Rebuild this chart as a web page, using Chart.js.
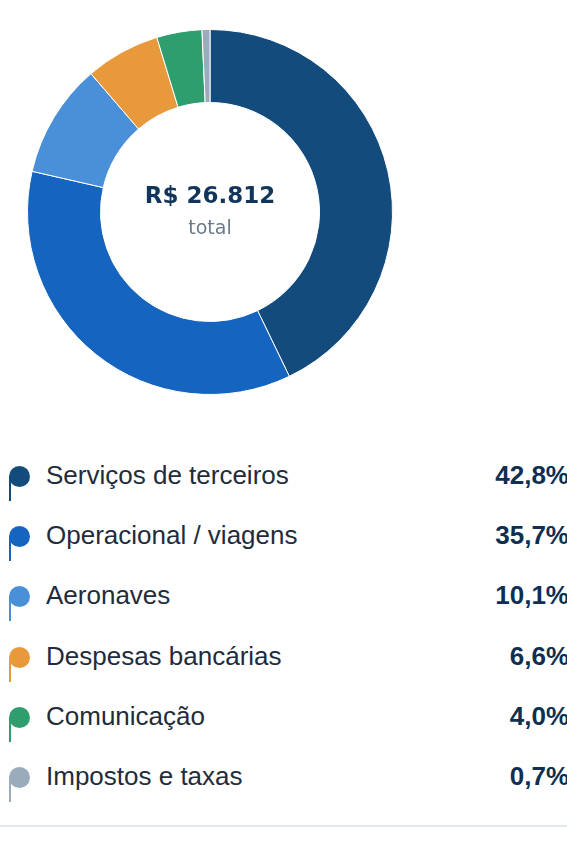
<!DOCTYPE html>
<html>
<head>
<meta charset="utf-8">
<script src="https://cdn.jsdelivr.net/npm/chart.js@4.4.1/dist/chart.umd.min.js"></script>
<style>
  html, body { margin: 0; padding: 0; background: #fff; }
  body { width: 567px; height: 855px; overflow: hidden; position: relative; }
  .chart-box { position: absolute; left: 27px; top: 29px; width: 366px; height: 366px; }
  .center-label { position: absolute; left: 110px; top: 175px; width: 200px; text-align: center; font-family: "DejaVu Sans", sans-serif; }
  .center-label .amount { font-size: 23px; font-weight: bold; color: #12355b; line-height: 40px; }
  .center-label .sub { font-size: 19px; color: #6b7a8b; line-height: 24px; }
  .legend { position: absolute; left: 0; top: 446px; width: 567px; margin: 0; padding: 0; list-style: none; }
  .legend li { position: relative; height: 60.2px; font-family: "Liberation Sans", Arial, sans-serif; font-size: 26px; }
  .legend .dot { position: absolute; left: 9px; top: 20px; width: 21px; height: 21px; border-radius: 50%; }
  .legend .dot::after { content: ""; position: absolute; left: 0; top: 10px; width: 1.5px; height: 25px; background: inherit; }
  .legend .name { position: absolute; left: 46px; top: 14px; color: #1f2c3b; }
  .legend .pct { position: absolute; right: -2px; top: 14px; font-weight: bold; color: #0f2f52; }
  .rule { position: absolute; left: 0; top: 825px; width: 567px; height: 2px; background: #e1e8ef; }
</style>
</head>
<body>
<div class="chart-box"><canvas id="donut"></canvas></div>
<div class="center-label">
  <div class="amount" id="totalAmount"></div>
  <div class="sub">total</div>
</div>
<ul class="legend" id="legend"></ul>
<div class="rule"></div>

<script>
const categories = ['Serviços de terceiros', 'Operacional / viagens', 'Aeronaves', 'Despesas bancárias', 'Comunicação', 'Impostos e taxas'];
const shares = [42.8, 35.7, 10.1, 6.6, 4.0, 0.7];
const colors = ['#134b7c', '#1565c0', '#4a90d9', '#e8993b', '#2f9e6e', '#9aabbb'];
const totalLabel = 'R$ 26.812';

document.getElementById('totalAmount').textContent = totalLabel;

// Legend list
document.getElementById('legend').innerHTML = categories.map((c, i) => `
    <li>
        <span class="dot" style="background:${colors[i]}"></span>
        <span class="name">${c}</span>
        <span class="pct">${shares[i].toFixed(1).replace('.', ',')}%</span>
    </li>
`).join('');

new Chart(document.getElementById('donut').getContext('2d'), {
    type: 'doughnut',
    data: {
        labels: categories,
        datasets: [{
            data: shares,
            backgroundColor: colors,
            borderColor: '#ffffff',
            borderWidth: 1,
        }]
    },
    options: {
        responsive: true,
        maintainAspectRatio: false,
        animation: false,
        cutout: '60%',
        layout: { padding: 0 },
        plugins: {
            legend: { display: false },
            tooltip: { enabled: false }
        }
    }
});
</script>
</body>
</html>
